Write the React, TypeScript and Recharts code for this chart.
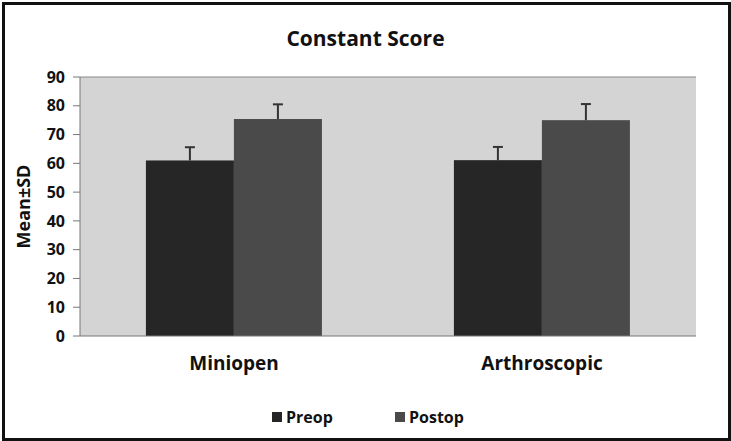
import React from 'react';
import {
  BarChart,
  Bar,
  XAxis,
  YAxis,
  CartesianGrid,
  ReferenceLine,
} from 'recharts';

const categories = ['Miniopen', 'Arthroscopic'];
const preopMean = [61.0, 61.1];
const preopSD = [4.6, 4.6];
const postopMean = [75.4, 75.0];
const postopSD = [5.1, 5.6];
const yTicks = [0, 10, 20, 30, 40, 50, 60, 70, 80, 90];

const data = categories.map((name, i) => ({
  name,
  preop: preopMean[i],
  preopSD: preopSD[i],
  postop: postopMean[i],
  postopSD: postopSD[i],
}));

const FONT = '"Open Sans", Lato, sans-serif';
const PREOP = '#262626';
const POSTOP = '#4a4a4a';

// bar + upper SD whisker, the whisker length comes from the bar's own px/unit
function barWithSD(sdKey: string, valueKey: string) {
  return (props: any) => {
    const { x, y, width, height, fill, payload } = props;
    const pxPerUnit = height / payload[valueKey];
    const top = y - payload[sdKey] * pxPerUnit;
    const cx = x + width / 2;
    return (
      <g>
        <rect x={x} y={y} width={width} height={height} fill={fill} />
        <line x1={cx} x2={cx} y1={y} y2={top} stroke="#333" strokeWidth={2} />
        <line x1={cx - 5} x2={cx + 5} y1={top} y2={top} stroke="#333" strokeWidth={2} />
      </g>
    );
  };
}

export default function App() {
  const legend = [
    { label: 'Preop', color: PREOP, left: 272 },
    { label: 'Postop', color: POSTOP, left: 395 },
  ];
  return (
    <div
      style={{
        position: 'absolute',
        left: 0,
        top: 0,
        width: 731,
        height: 441,
        background: '#fff',
        fontFamily: FONT,
      }}
    >
      <div
        style={{
          position: 'absolute',
          left: 2,
          top: 2,
          width: 723,
          height: 433,
          border: '3px solid #111',
        }}
      />
      <div
        style={{
          position: 'absolute',
          left: 0,
          width: 731,
          top: 24,
          textAlign: 'center',
          fontSize: 21,
          fontWeight: 700,
          color: '#111',
        }}
      >
        Constant Score
      </div>
      <BarChart
        width={731}
        height={441}
        data={data}
        margin={{ top: 77, right: 35, bottom: 55, left: 0 }}
        barCategoryGap="21.4%"
        barGap={0}
      >
        <CartesianGrid fill="#d4d4d4" horizontal={false} vertical={false} />
        <ReferenceLine y={90} stroke="#888" strokeWidth={1} />
        <XAxis
          xAxisId="edges"
          type="number"
          domain={[0, 2]}
          ticks={[0, 1, 2]}
          tick={false}
          axisLine={false}
          tickSize={6}
          tickLine={{ stroke: '#777' }}
          height={0}
        />
        <XAxis
          dataKey="name"
          axisLine={{ stroke: '#777' }}
          tickLine={false}
          tickMargin={15}
          height={50}
          tick={{ fontSize: 19, fontWeight: 700, fill: '#111', fontFamily: FONT }}
        />
        <YAxis
          domain={[0, 90]}
          ticks={yTicks}
          width={80}
          tickSize={7}
          tickMargin={8}
          axisLine={{ stroke: '#777' }}
          tickLine={{ stroke: '#777' }}
          tick={{ fontSize: 16, fontWeight: 700, fill: '#111', fontFamily: FONT }}
          label={{
            value: 'Mean±SD',
            angle: -90,
            position: 'insideLeft',
            offset: 24,
            style: { fontSize: 18, fontWeight: 700, fill: '#111', fontFamily: FONT, textAnchor: 'middle' },
          }}
        />
        <YAxis
          yAxisId="right"
          orientation="right"
          width={0}
          tick={false}
          tickLine={false}
          axisLine={{ stroke: '#888' }}
        />
        <Bar
          dataKey="preop"
          name="Preop"
          fill={PREOP}
          isAnimationActive={false}
          shape={barWithSD('preopSD', 'preop')}
        />
        <Bar
          dataKey="postop"
          name="Postop"
          fill={POSTOP}
          isAnimationActive={false}
          shape={barWithSD('postopSD', 'postop')}
        />
      </BarChart>
      {legend.map((it) => (
        <div
          key={it.label}
          style={{ position: 'absolute', left: it.left, top: 406, display: 'flex', alignItems: 'center' }}
        >
          <div style={{ width: 10, height: 10, background: it.color, marginRight: 4 }} />
          <span style={{ fontSize: 16, fontWeight: 700, color: '#111' }}>{it.label}</span>
        </div>
      ))}
    </div>
  );
}
